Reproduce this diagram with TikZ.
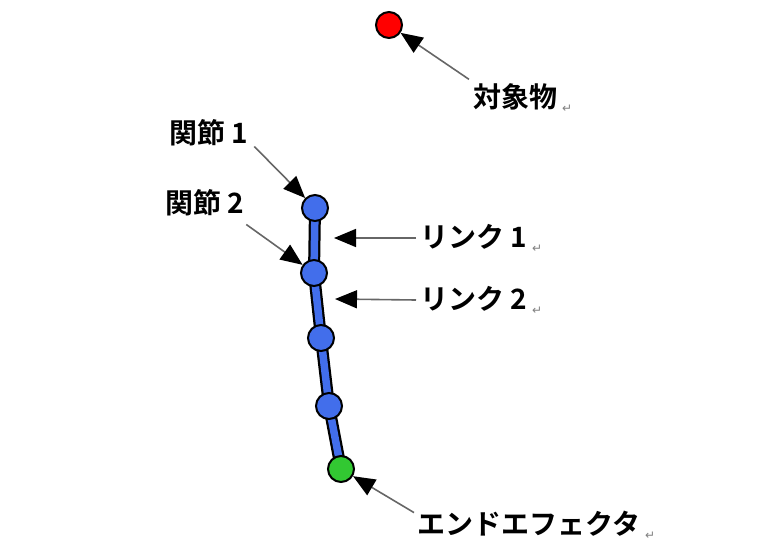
\documentclass[tikz,border=0pt]{standalone}
\usepackage{fontspec}
\newfontfamily\jpfont{Noto Sans CJK JP}[UprightFont={* Bold}]
\newfontfamily\markfont{DejaVu Sans}
\usepackage{tikz}
\usetikzlibrary{positioning,calc,arrows.meta}

\definecolor{jointblue}{RGB}{66,110,235}
\definecolor{eegreen}{RGB}{50,200,50}
\newcommand{\pmark}{\hspace{5pt}{\markfont\fontsize{12}{12}\selectfont\color{gray}\raisebox{-5pt}{↵}}}

\tikzset{
    joint/.style={circle, draw=black, line width=2pt, fill=jointblue,
        minimum size=26pt, inner sep=0pt},
    lbl/.style={anchor=west, inner sep=0pt, font=\jpfont\fontsize{28}{28}\selectfont},
    pointer/.style={draw=black!60, line width=1.6pt,
        -{Triangle[length=22pt,width=18pt,black]}},
}

\begin{document}
\begin{tikzpicture}[x=1pt,y=-1pt]
    \useasboundingbox (0,0) rectangle (780,549);
    % robot arm
    \coordinate (j1) at (315,208);
    \coordinate (j2) at (314,273);
    \coordinate (j3) at (321,338);
    \coordinate (j4) at (329,406);
    \coordinate (ee) at (341,469);
    \foreach \a/\b in {j1/j2,j2/j3,j3/j4,j4/ee}{
        \draw[line width=12pt] (\a) -- (\b);
        \draw[line width=7.5pt, jointblue] (\a) -- (\b);
    }
    \node (J1) [joint] at (j1) {};
    \node (J2) [joint] at (j2) {};
    \node (J3) [joint] at (j3) {};
    \node (J4) [joint] at (j4) {};
    \node (EE) [joint, fill=eegreen] at (ee) {};
    \node (obj) [joint, fill=red] at (389,25) {};
    % labels
    \node (tgt) [lbl] at (473,98) {対象物\pmark};
    \node (k1) [lbl] at (169,133) {関節 1};
    \node (k2) [lbl] at (165,203) {関節 2};
    \node (lnk1) [lbl] at (420,238) {リンク 1\pmark};
    \node (lnk2) [lbl] at (420,300) {リンク 2\pmark};
    \node (eef) [lbl] at (417,525) {エンドエフェクタ\pmark};
    \coordinate (l1tip) at (334,238);
    \coordinate (l2tip) at (335,299);
    % pointers
    \draw[pointer] ($(tgt.north west)+(-4,-4)$) -- (obj);
    \draw[pointer] ($(k1.south east)+(6,0)$) -- (J1);
    \draw[pointer] ($(k2.south east)+(2,8)$) -- (J2);
    \draw[pointer] ($(lnk1.west)+(-4,0)$) -- (l1tip);
    \draw[pointer] ($(lnk2.west)+(-4,0)$) -- (l2tip);
    \draw[pointer] ($(eef.north west)+(-3,2)$) -- (EE);
\end{tikzpicture}
\end{document}
